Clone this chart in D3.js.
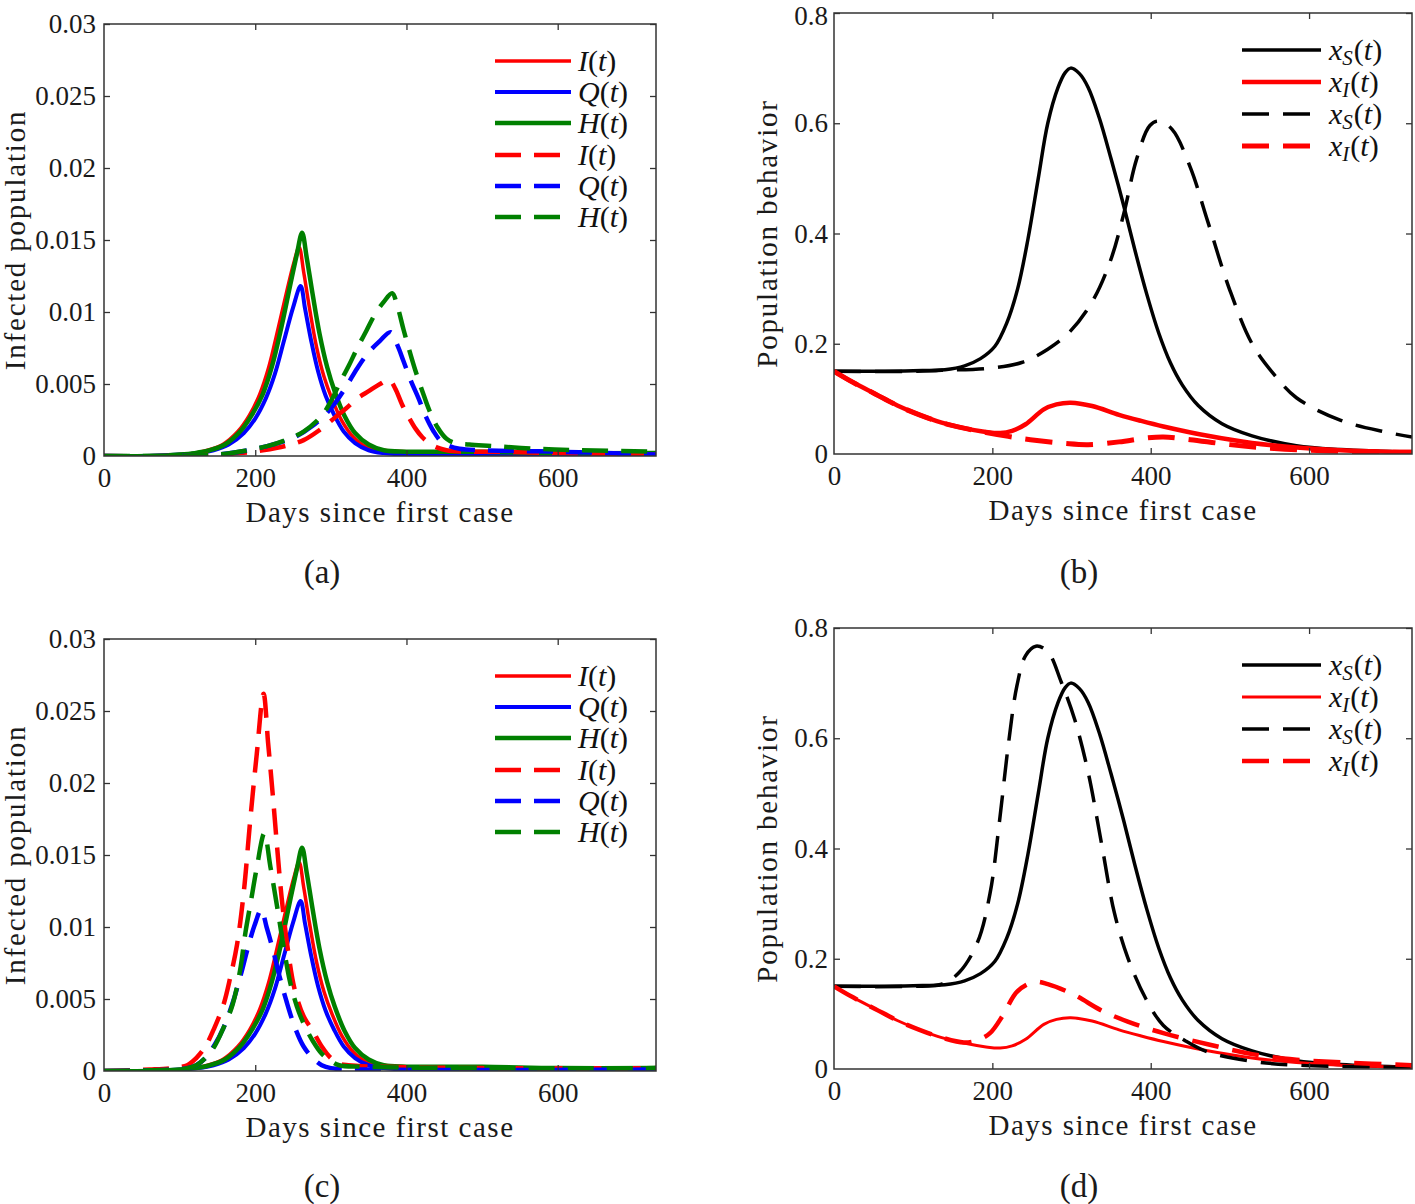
<!DOCTYPE html>
<html>
<head>
<meta charset="utf-8">
<script src="https://cdn.jsdelivr.net/npm/d3@7/dist/d3.min.js"></script>
<style>
  html, body { margin: 0; padding: 0; background: #fff; }
  svg { display: block; font-family: "Liberation Serif", "Times New Roman", serif; }
</style>
</head>
<body>
<svg id="fig" width="1415" height="1204"></svg>
<script>
// ---------------- DATA ----------------
const xTicks = [0, 200, 400, 600];
const yTicksInfected = [0, 0.005, 0.01, 0.015, 0.02, 0.025, 0.03];
const yTickLabelsInfected = ["0", "0.005", "0.01", "0.015", "0.02", "0.025", "0.03"];
const yTicksBehavior = [0, 0.2, 0.4, 0.6, 0.8];
const yTickLabelsBehavior = ["0", "0.2", "0.4", "0.6", "0.8"];
const xLabel = "Days since first case";
const yLabelInfected = "Infected population";
const yLabelBehavior = "Population behavior";
const panelLetters = ["(a)", "(b)", "(c)", "(d)"];

// Baseline (solid) infected curves, used in panels (a) and (c)
const solidI_days = [0, 60, 100, 120, 137, 157, 177, 192, 206, 218, 230, 242, 251, 258, 264, 272, 281, 291, 302, 315, 330, 348, 368, 400, 500, 600, 730];
const solidI_vals = [0.0000, 0.0000, 0.0001, 0.0002, 0.0004, 0.0008, 0.0017, 0.0028, 0.0043, 0.0062, 0.0088, 0.0115, 0.0134, 0.0145, 0.0128, 0.0102, 0.0076, 0.0055, 0.0039, 0.0024, 0.0013, 0.0006, 0.0004, 0.0003, 0.0002, 0.0002, 0.0001];
const solidQ_days = [0, 60, 100, 125, 145, 165, 185, 200, 214, 226, 238, 250, 260, 266, 274, 283, 293, 304, 317, 332, 350, 370, 400, 730];
const solidQ_vals = [0.0000, 0.0000, 0.0001, 0.0002, 0.0004, 0.0008, 0.0016, 0.0026, 0.0040, 0.0057, 0.0080, 0.0103, 0.0118, 0.0102, 0.0080, 0.0059, 0.0042, 0.0029, 0.0017, 0.0009, 0.0004, 0.0002, 0.0001, 0.0000];
const solidH_days = [0, 60, 100, 120, 140, 160, 180, 195, 210, 222, 234, 246, 255, 262, 268, 276, 285, 295, 305, 318, 332, 350, 370, 400, 500, 600, 730];
const solidH_vals = [0.0000, 0.0000, 0.0001, 0.0002, 0.0004, 0.0008, 0.0017, 0.0028, 0.0043, 0.0062, 0.0088, 0.0118, 0.0140, 0.0155, 0.0138, 0.0112, 0.0085, 0.0062, 0.0045, 0.0028, 0.0016, 0.0008, 0.0004, 0.0003, 0.0003, 0.0002, 0.0002];

// Panel (a) dashed curves
const aDashI_days = [0, 100, 150, 180, 210, 240, 264, 285, 306, 320, 335, 350, 365, 377, 385, 394, 403, 412, 421, 430, 440, 453, 480, 520, 600, 730];
const aDashI_vals = [0.0, 0.0, 0.0001, 0.0002, 0.0004, 0.0007, 0.0011, 0.0018, 0.0027, 0.0033, 0.0040, 0.0045, 0.0050, 0.0053, 0.0047, 0.0036, 0.0027, 0.0019, 0.0013, 0.0009, 0.0006, 0.0004, 0.0003, 0.0003, 0.0002, 0.0001];
const aDashQ_days = [0, 150, 200, 230, 252, 276, 295, 306, 320, 335, 350, 365, 379, 388, 396, 406, 416, 426, 436, 446, 456, 470, 500, 600, 730];
const aDashQ_vals = [0.0, 0.0001, 0.0005, 0.0009, 0.0013, 0.0021, 0.0030, 0.0037, 0.0048, 0.0061, 0.0072, 0.0080, 0.0086, 0.0077, 0.0066, 0.0052, 0.0040, 0.0027, 0.0017, 0.0010, 0.0007, 0.0005, 0.0004, 0.0003, 0.0001];
const aDashH_days = [0, 150, 190, 217, 240, 264, 288, 300, 312, 324, 335, 347, 359, 370, 381, 388, 396, 404, 412, 421, 430, 441, 453, 465, 483, 513, 572, 631, 730];
const aDashH_vals = [0.0, 0.0001, 0.0004, 0.0007, 0.0011, 0.0017, 0.0028, 0.0038, 0.0051, 0.0063, 0.0075, 0.0087, 0.0099, 0.0107, 0.0113, 0.0104, 0.0088, 0.0073, 0.0059, 0.0045, 0.0032, 0.0020, 0.0012, 0.0009, 0.0008, 0.0007, 0.0005, 0.0004, 0.0003];

// Panel (c) dashed curves
const cDashI_days = [0, 60, 90, 110, 122, 134, 146, 158, 167, 176, 185, 193, 202, 211, 217, 223, 229, 235, 243, 252, 264, 276, 288, 300, 312, 323, 360, 500, 730];
const cDashI_vals = [0.0, 0.0001, 0.0002, 0.0004, 0.0009, 0.0017, 0.0030, 0.0046, 0.0065, 0.0088, 0.0125, 0.0172, 0.0220, 0.0262, 0.0228, 0.0193, 0.0155, 0.0120, 0.0085, 0.0057, 0.0038, 0.0028, 0.0017, 0.0009, 0.0005, 0.0004, 0.0003, 0.0002, 0.0002];
const cDashQ_days = [0, 90, 110, 122, 134, 146, 158, 170, 181, 190, 199, 208, 215, 223, 232, 241, 252, 264, 276, 288, 300, 350, 730];
const cDashQ_vals = [0.0, 0.0001, 0.0002, 0.0004, 0.0009, 0.0018, 0.0030, 0.0047, 0.0067, 0.0085, 0.0101, 0.0112, 0.0100, 0.0085, 0.0066, 0.0049, 0.0031, 0.0017, 0.0009, 0.0004, 0.0002, 0.0001, 0.0001];
const cDashH_days = [0, 90, 110, 122, 134, 146, 158, 170, 180, 187, 195, 202, 212, 220, 229, 237, 246, 255, 264, 276, 288, 300, 311, 340, 500, 730];
const cDashH_vals = [0.0, 0.0001, 0.0002, 0.0004, 0.0009, 0.0017, 0.0030, 0.0046, 0.0070, 0.0096, 0.0120, 0.0141, 0.0165, 0.0142, 0.0114, 0.0088, 0.0062, 0.0045, 0.0033, 0.0021, 0.0012, 0.0007, 0.0004, 0.0003, 0.0002, 0.0002];

// Baseline (solid) behaviour curves, used in panels (b) and (d)
const solidXS_days = [0, 50, 100, 140, 165, 185, 203, 218, 232, 245, 258, 270, 283, 292, 299, 310, 321, 335, 350, 366, 380, 395, 410, 425, 440, 460, 490, 528, 584, 640, 730];
const solidXS_vals = [0.150, 0.150, 0.151, 0.153, 0.160, 0.173, 0.195, 0.237, 0.300, 0.390, 0.500, 0.600, 0.665, 0.692, 0.700, 0.690, 0.665, 0.610, 0.535, 0.450, 0.370, 0.290, 0.220, 0.165, 0.125, 0.088, 0.055, 0.033, 0.015, 0.008, 0.003];
const solidXI_days = [0, 24, 52, 80, 108, 136, 164, 192, 210, 225, 242, 265, 281, 299, 326, 360, 388, 416, 472, 528, 584, 640, 730];
const solidXI_vals = [0.150, 0.130, 0.109, 0.088, 0.071, 0.057, 0.047, 0.040, 0.038, 0.042, 0.054, 0.081, 0.090, 0.093, 0.087, 0.071, 0.060, 0.050, 0.033, 0.020, 0.012, 0.007, 0.0035];

// Panel (b) dashed curves
const bDashXS_days = [0, 100, 136, 192, 237, 270, 298, 326, 349, 366, 382, 399, 410, 427, 450, 472, 500, 528, 556, 584, 640, 696, 730];
const bDashXS_vals = [0.150, 0.150, 0.152, 0.155, 0.166, 0.190, 0.222, 0.276, 0.350, 0.436, 0.534, 0.596, 0.604, 0.589, 0.520, 0.422, 0.297, 0.200, 0.144, 0.102, 0.061, 0.040, 0.031];
const bDashXI_days = [0, 24, 52, 80, 108, 136, 164, 192, 220, 248, 293, 321, 360, 394, 416, 450, 500, 556, 640, 730];
const bDashXI_vals = [0.150, 0.130, 0.109, 0.088, 0.071, 0.057, 0.047, 0.039, 0.032, 0.026, 0.019, 0.017, 0.022, 0.029, 0.031, 0.026, 0.017, 0.010, 0.005, 0.003];

// Panel (d) dashed curves
const dDashXS_days = [0, 100, 136, 158, 181, 197, 209, 220, 231, 242, 255, 270, 287, 304, 321, 338, 354, 371, 394, 416, 444, 472, 528, 584, 730];
const dDashXS_vals = [0.150, 0.150, 0.154, 0.175, 0.229, 0.318, 0.449, 0.586, 0.695, 0.750, 0.767, 0.757, 0.702, 0.634, 0.538, 0.408, 0.284, 0.202, 0.127, 0.079, 0.051, 0.031, 0.014, 0.007, 0.003];
const dDashXI_days = [0, 24, 52, 80, 108, 136, 164, 181, 197, 214, 231, 253, 270, 304, 338, 371, 416, 472, 528, 584, 640, 730];
const dDashXI_vals = [0.150, 0.130, 0.109, 0.088, 0.071, 0.057, 0.048, 0.052, 0.065, 0.099, 0.140, 0.158, 0.154, 0.134, 0.106, 0.086, 0.065, 0.045, 0.027, 0.017, 0.012, 0.007];

// ---------------- LAYOUT / STYLE ----------------
const RED = "#ff0000", BLUE = "#0000ff", GREEN = "#008000", BLACK = "#000000";
const zip = (d, v) => d.map((x, i) => [x, v[i]]);

const infectedLegend = [
  {name: "I", color: RED, w: 3.5, dash: null},
  {name: "Q", color: BLUE, w: 4, dash: null},
  {name: "H", color: GREEN, w: 4.5, dash: null},
  {name: "I", color: RED, w: 4.5, dash: "26,13"},
  {name: "Q", color: BLUE, w: 4.5, dash: "26,13"},
  {name: "H", color: GREEN, w: 4.5, dash: "26,13"}
];

const panels = [
  {
    box: {l: 104, r: 656, t: 24, b: 456}, ymax: 0.03,
    yt: yTicksInfected, ytl: yTickLabelsInfected, ylab: yLabelInfected, ylabX: 25,
    letter: panelLetters[0], letterX: 322, letterY: 583,
    series: [
      {data: zip(solidI_days, solidI_vals), ...infectedLegend[0]},
      {data: zip(solidQ_days, solidQ_vals), ...infectedLegend[1]},
      {data: zip(solidH_days, solidH_vals), ...infectedLegend[2]},
      {data: zip(aDashI_days, aDashI_vals), ...infectedLegend[3]},
      {data: zip(aDashQ_days, aDashQ_vals), ...infectedLegend[4]},
      {data: zip(aDashH_days, aDashH_vals), ...infectedLegend[5]}
    ],
    legend: {type: "inf", x0: 495, x1: 571, xd1: 561, tx: 578, ys: [61, 92, 123, 155, 186, 217]}
  },
  {
    box: {l: 834, r: 1412, t: 13, b: 454}, ymax: 0.8,
    yt: yTicksBehavior, ytl: yTickLabelsBehavior, ylab: yLabelBehavior, ylabX: 777,
    letter: panelLetters[1], letterX: 1079, letterY: 583,
    series: [
      {data: zip(solidXS_days, solidXS_vals), name: "S", color: BLACK, w: 3.5, dash: null},
      {data: zip(solidXI_days, solidXI_vals), name: "I", color: RED, w: 4.5, dash: null},
      {data: zip(bDashXS_days, bDashXS_vals), name: "S", color: BLACK, w: 3.5, dash: "27,14"},
      {data: zip(bDashXI_days, bDashXI_vals), name: "I", color: RED, w: 5, dash: "27,14"}
    ],
    legend: {type: "beh", x0: 1242, x1: 1321, xd1: 1311, tx: 1329, ys: [50, 82, 114, 146]}
  },
  {
    box: {l: 104, r: 656, t: 639, b: 1071}, ymax: 0.03,
    yt: yTicksInfected, ytl: yTickLabelsInfected, ylab: yLabelInfected, ylabX: 25,
    letter: panelLetters[2], letterX: 322, letterY: 1197,
    series: [
      {data: zip(solidI_days, solidI_vals), ...infectedLegend[0]},
      {data: zip(solidQ_days, solidQ_vals), ...infectedLegend[1]},
      {data: zip(solidH_days, solidH_vals), ...infectedLegend[2]},
      {data: zip(cDashI_days, cDashI_vals), ...infectedLegend[3]},
      {data: zip(cDashQ_days, cDashQ_vals), ...infectedLegend[4]},
      {data: zip(cDashH_days, cDashH_vals), ...infectedLegend[5]}
    ],
    legend: {type: "inf", x0: 495, x1: 571, xd1: 561, tx: 578, ys: [676, 707, 738, 770, 801, 832]}
  },
  {
    box: {l: 834, r: 1412, t: 628, b: 1069}, ymax: 0.8,
    yt: yTicksBehavior, ytl: yTickLabelsBehavior, ylab: yLabelBehavior, ylabX: 777,
    letter: panelLetters[3], letterX: 1079, letterY: 1197,
    series: [
      {data: zip(solidXS_days, solidXS_vals), name: "S", color: BLACK, w: 3.5, dash: null},
      {data: zip(solidXI_days, solidXI_vals), name: "I", color: RED, w: 3, dash: null},
      {data: zip(dDashXS_days, dDashXS_vals), name: "S", color: BLACK, w: 3.5, dash: "27,14"},
      {data: zip(dDashXI_days, dDashXI_vals), name: "I", color: RED, w: 4.5, dash: "27,14"}
    ],
    legend: {type: "beh", x0: 1242, x1: 1321, xd1: 1311, tx: 1329, ys: [665, 697, 729, 761]}
  }
];

// ---------------- DRAW ----------------
const svg = d3.select("#fig");
svg.append("rect").attr("width", 1415).attr("height", 1204).attr("fill", "#fff");

const AXIS_COLOR = "#333333";
const TICK = 6;
const TXT = "#1a1a1a";
const TICK_FS = 27;

panels.forEach((p, pi) => {
  const B = p.box;
  const x = d3.scaleLinear().domain([0, 730]).range([B.l, B.r]);
  const y = d3.scaleLinear().domain([0, p.ymax]).range([B.b, B.t]);
  const g = svg.append("g");

  const clipId = "clip" + pi;
  g.append("clipPath").attr("id", clipId)
    .append("rect").attr("x", B.l).attr("y", B.t - 2).attr("width", B.r - B.l).attr("height", B.b - B.t + 2);

  // curves
  const line = d3.line().x(d => x(d[0])).y(d => y(d[1])).curve(d3.curveCatmullRom.alpha(0.5));
  const cg = g.append("g").attr("clip-path", `url(#${clipId})`);
  p.series.forEach(s => {
    cg.append("path").attr("d", line(s.data))
      .attr("fill", "none").attr("stroke", s.color).attr("stroke-width", s.w)
      .attr("stroke-dasharray", s.dash).attr("stroke-linejoin", "round");
  });

  // axes (box with inward ticks on all sides)
  const axB = d3.axisBottom(x).tickValues(xTicks).tickSize(-TICK).tickPadding(0).tickFormat(d3.format("d"));
  const axT = d3.axisTop(x).tickValues(xTicks).tickSize(-TICK).tickFormat("");
  const axL = d3.axisLeft(y).tickValues(p.yt).tickSize(-TICK).tickFormat("");
  const axR = d3.axisRight(y).tickValues(p.yt).tickSize(-TICK).tickFormat("");

  const gb = g.append("g").attr("transform", `translate(0,${B.b})`).call(axB);
  g.append("g").attr("transform", `translate(0,${B.t})`).call(axT);
  g.append("g").attr("transform", `translate(${B.l},0)`).call(axL);
  g.append("g").attr("transform", `translate(${B.r},0)`).call(axR);

  g.selectAll(".domain").remove();
  g.selectAll(".tick line").attr("stroke", AXIS_COLOR).attr("stroke-width", 1.3);
  gb.selectAll(".tick text").attr("y", 31).attr("dy", 0)
    .attr("font-size", TICK_FS).attr("font-family", "Liberation Serif").attr("fill", TXT);
  g.selectAll(".tick").filter(d => d === 0).selectAll("line").remove();

  g.append("rect").attr("x", B.l).attr("y", B.t).attr("width", B.r - B.l).attr("height", B.b - B.t)
    .attr("fill", "none").attr("stroke", AXIS_COLOR).attr("stroke-width", 1.5);

  // y tick labels (kept inside the picture at the very top)
  const pad = p.ymax < 0.1 ? 8 : 6;
  g.append("g").selectAll("text").data(p.yt).join("text")
    .attr("x", B.l - pad).attr("y", d => Math.max(y(d) + 9, TICK_FS * 0.92))
    .attr("text-anchor", "end").attr("font-size", TICK_FS).attr("fill", TXT)
    .text((d, i) => p.ytl[i]);

  // axis labels
  g.append("text").attr("x", (B.l + B.r) / 2).attr("y", B.b + 66)
    .attr("text-anchor", "middle").attr("font-size", 29).attr("letter-spacing", 1.5).attr("fill", TXT)
    .text(xLabel);
  g.append("text").attr("transform", `translate(${p.ylabX},${(B.t + B.b) / 2}) rotate(-90)`)
    .attr("text-anchor", "middle").attr("font-size", 29).attr("letter-spacing", 1.8).attr("fill", TXT)
    .text(p.ylab);

  // panel letter
  svg.append("text").attr("x", p.letterX).attr("y", p.letterY)
    .attr("text-anchor", "middle").attr("font-size", 33).attr("fill", TXT).text(p.letter);

  // legend
  const L = p.legend;
  p.series.forEach((s, i) => {
    const yy = L.ys[i];
    g.append("line").attr("x1", L.x0).attr("x2", s.dash ? L.xd1 : L.x1).attr("y1", yy).attr("y2", yy)
      .attr("stroke", s.color).attr("stroke-width", s.w).attr("stroke-dasharray", s.dash);
    const t = g.append("text").attr("x", L.tx).attr("y", yy + 10).attr("font-size", 30).attr("fill", "#111");
    if (L.type === "inf") {
      t.append("tspan").attr("font-style", "italic").text(s.name);
      t.append("tspan").text("(");
      t.append("tspan").attr("font-style", "italic").text("t");
      t.append("tspan").text(")");
    } else {
      t.append("tspan").attr("font-style", "italic").text("x");
      t.append("tspan").attr("font-style", "italic").attr("font-size", 21).attr("dy", 5).text(s.name);
      t.append("tspan").attr("dy", -5).attr("dx", 1).text("(");
      t.append("tspan").attr("font-style", "italic").text("t");
      t.append("tspan").text(")");
    }
  });
});
</script>
</body>
</html>
